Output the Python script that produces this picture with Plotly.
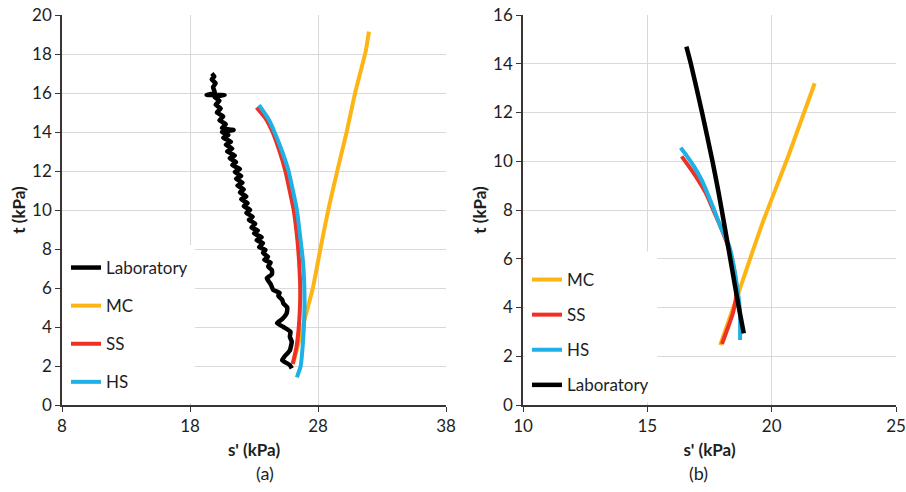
import plotly.graph_objects as go

# ---- Panel (a): stress paths, s' vs t (kPa) ----
a_lab_s = [25.95, 25.8, 25.2, 25.4, 25.8, 25.95, 25.8, 25.85, 25.3, 24.8, 25.2, 25.55, 25.6, 25.3, 25.2,
           24.9, 25.0, 24.5, 24.3, 24.0, 24.4, 24.4, 24.1, 24.3, 23.8, 24.1, 23.7, 23.9, 23.4, 23.7,
           23.2, 23.6, 23.0, 23.3, 22.8, 23.1, 22.6, 22.9, 22.4, 22.7, 22.2, 22.5, 22.0, 22.4, 21.9,
           22.2, 21.7, 22.1, 21.6, 22.0, 21.5, 21.9, 21.3, 21.6, 21.1, 21.5, 20.9, 21.3, 20.8, 21.2,
           20.6, 21.0, 20.5, 21.4, 20.5, 20.8, 20.3, 20.6, 20.1, 20.4, 20.0, 20.3, 19.9, 20.7, 19.3,
           19.95, 19.8, 20.0, 19.7, 19.9, 19.7]
a_lab_t = [1.88, 2.05, 2.3, 2.5, 2.8, 3.25, 3.5, 3.76, 4.0, 4.2, 4.4, 4.7, 5.0, 5.2, 5.4,
           5.6, 5.75, 5.9, 6.2, 6.5, 6.7, 6.92, 7.1, 7.3, 7.45, 7.6, 7.8, 7.95, 8.1, 8.3,
           8.45, 8.6, 8.8, 8.95, 9.1, 9.3, 9.5, 9.65, 9.85, 10.0, 10.2, 10.35, 10.55, 10.7, 10.9,
           11.05, 11.25, 11.4, 11.6, 11.75, 11.95, 12.1, 12.3, 12.45, 12.65, 12.8, 13.0, 13.15, 13.35, 13.5,
           13.7, 13.85, 14.0, 14.1, 14.2, 14.4, 14.6, 14.8, 15.0, 15.2, 15.4, 15.6, 15.8, 15.9, 15.9,
           16.0, 16.3, 16.5, 16.7, 16.85, 17.0]

a_mc_s = [26.05, 27.0, 27.6, 28.2, 28.81, 29.51, 30.24, 30.89, 31.72, 31.98]
a_mc_t = [2.1, 4.5, 6.0, 8.05, 10.03, 12.02, 14.0, 15.98, 18.12, 19.15]

a_ss_s = [26.02, 26.3, 26.5, 26.6, 26.6, 26.52, 26.4, 26.1, 25.45, 25.0, 24.45, 23.9, 23.2]
a_ss_t = [2.1, 2.9, 4.0, 5.2, 6.3, 7.4, 8.4, 10.0, 12.0, 13.0, 14.0, 14.7, 15.26]

a_hs_s = [26.35, 26.65, 26.8, 26.9, 26.95, 26.92, 26.82, 26.65, 26.35, 25.7, 25.2, 24.6, 24.1, 23.4]
a_hs_t = [1.42, 2.0, 3.0, 4.0, 5.2, 6.3, 7.4, 8.4, 10.0, 12.0, 13.0, 14.0, 14.7, 15.38]

# ---- Panel (b) ----
b_mc_s = [17.93, 18.8, 19.58, 20.7, 21.73]
b_mc_t = [2.46, 5.0, 7.32, 10.3, 13.2]

b_ss_s = [18.0, 18.25, 18.45, 18.58, 18.5, 18.25, 17.95, 17.65, 17.35, 17.0, 16.7, 16.38]
b_ss_t = [2.5, 3.2, 3.8, 4.6, 5.5, 6.5, 7.3, 8.0, 8.7, 9.3, 9.75, 10.2]

b_hs_s = [18.73, 18.72, 18.57, 18.3, 17.95, 17.69, 17.45, 17.2, 16.9, 16.6, 16.34]
b_hs_t = [2.67, 3.9, 5.13, 6.5, 7.3, 8.0, 8.6, 9.2, 9.75, 10.2, 10.55]

b_lab_s = [18.88, 18.68, 18.42, 18.13, 17.85, 17.62, 17.2, 16.75, 16.57]
b_lab_t = [2.94, 4.0, 5.5, 7.2, 8.8, 10.0, 12.0, 14.0, 14.7]

# ---- Axis ticks ----
a_xticks = [8, 18, 28, 38]
a_yticks = list(range(0, 21, 2))
b_xticks = [10, 15, 20, 25]
b_yticks = list(range(0, 17, 2))

C_LAB = "#000000"
C_MC = "#FDB515"
C_SS = "#EE3124"
C_HS = "#1FB0E6"
AXIS = "#3B3434"
GRID = "#D9D9D9"
TXT = "#1E1E1E"
FONT = "Lato"

fig = go.Figure()

# panel (a) traces
for name, xs, ys, col, w in [
    ("Laboratory", a_lab_s, a_lab_t, C_LAB, 4.5),
    ("MC", a_mc_s, a_mc_t, C_MC, 4),
    ("SS", a_ss_s, a_ss_t, C_SS, 4),
    ("HS", a_hs_s, a_hs_t, C_HS, 4),
]:
    fig.add_trace(go.Scatter(x=xs, y=ys, mode="lines", name=name,
                             line=dict(color=col, width=w, shape="spline", smoothing=0.4),
                             xaxis="x", yaxis="y", legend="legend",
                             legendgroup="a" + name))

# panel (b) traces
for name, xs, ys, col, w in [
    ("MC", b_mc_s, b_mc_t, C_MC, 4),
    ("SS", b_ss_s, b_ss_t, C_SS, 4),
    ("HS", b_hs_s, b_hs_t, C_HS, 4),
    ("Laboratory", b_lab_s, b_lab_t, C_LAB, 4.5),
]:
    fig.add_trace(go.Scatter(x=xs, y=ys, mode="lines", name=name,
                             line=dict(color=col, width=w, shape="spline", smoothing=0.6),
                             xaxis="x2", yaxis="y2", legend="legend2",
                             legendgroup="b" + name))

ydom = [87 / 492, 477 / 492]

def xaxis(dom, rng, ticks):
    return dict(domain=dom, range=rng, tickvals=ticks, showgrid=True, gridcolor=GRID,
                gridwidth=1, showline=True, linecolor=AXIS, linewidth=1.5,
                ticks="outside", ticklen=5, tickcolor=AXIS, zeroline=False, automargin=False,
                tickfont=dict(family=FONT, size=17, color=TXT),
                title=dict(text="<b>s' (kPa)</b>", standoff=9,
                           font=dict(family=FONT, size=17, color=TXT)))

def yaxis(anchor, rng, ticks):
    return dict(domain=ydom, range=rng, tickvals=ticks, anchor=anchor, showgrid=True,
                gridcolor=GRID, gridwidth=1, showline=True, linecolor=AXIS, linewidth=1.5,
                ticks="outside", ticklen=5, tickcolor=AXIS, zeroline=False, automargin=False,
                tickfont=dict(family=FONT, size=17, color=TXT),
                title=dict(text="<b>t (kPa)</b>", standoff=2,
                           font=dict(family=FONT, size=17, color=TXT)))

legend_common = dict(bgcolor="rgba(0,0,0,0)", borderwidth=0, xanchor="left", yanchor="top",
                     font=dict(family=FONT, size=17, color=TXT),
                     tracegroupgap=13, itemwidth=30)

fig.update_layout(
    width=906, height=492,
    margin=dict(l=0, r=0, t=0, b=0, autoexpand=False),
    paper_bgcolor="white", plot_bgcolor="white",
    xaxis=xaxis([62 / 906, 446 / 906], [8, 38], a_xticks),
    yaxis=yaxis("x", [0, 20], a_yticks),
    xaxis2=xaxis([523 / 906, 896 / 906], [10, 25], b_xticks),
    yaxis2=yaxis("x2", [0, 16], b_yticks),
    legend=dict(x=66 / 906, y=(492 - 250) / 492, **legend_common),
    legend2=dict(x=527 / 906, y=(492 - 262) / 492,
                 **{**legend_common, "tracegroupgap": 10}),
    showlegend=True,
    shapes=[
        dict(type="rect", xref="x", yref="y", x0=8.05, x1=18.4, y0=0.1, y1=8.2,
             fillcolor="white", line=dict(width=0), layer="between"),
        dict(type="rect", xref="x2", yref="y2", x0=10.05, x1=15.4, y0=0.1, y1=6.3,
             fillcolor="white", line=dict(width=0), layer="between"),
    ],
    annotations=[
        dict(text="(a)", xref="paper", yref="paper", x=254 / 906, y=(492 - 473) / 492,
             yanchor="middle", showarrow=False, font=dict(family=FONT, size=18, color=TXT)),
        dict(text="(b)", xref="paper", yref="paper", x=710 / 906, y=(492 - 473) / 492,
             yanchor="middle", showarrow=False, font=dict(family=FONT, size=18, color=TXT)),
    ],
)

fig.write_html("out.html")
